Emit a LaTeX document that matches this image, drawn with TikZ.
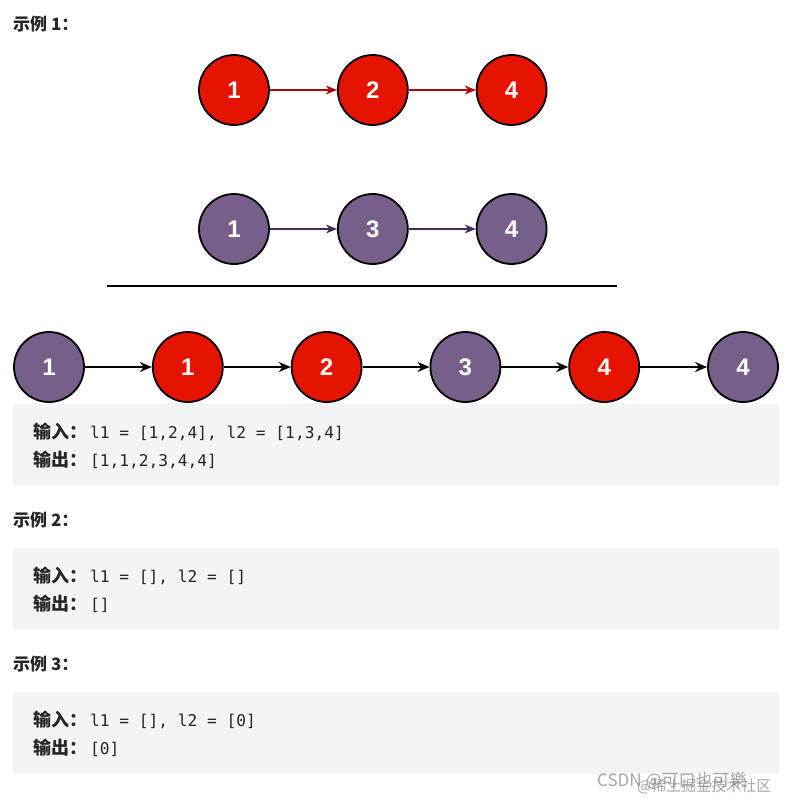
\documentclass[tikz,border=0pt]{standalone}
\usepackage{fontspec}
\newfontfamily\cjk{Noto Sans CJK SC}
\newfontfamily\codefont{DejaVu Sans Mono}
\newfontfamily\numfont{Liberation Sans}
\usetikzlibrary{arrows.meta,positioning}
\definecolor{nodered}{HTML}{E51400}
\definecolor{arrowred}{HTML}{B20000}
\definecolor{nodepurple}{HTML}{76608A}
\definecolor{arrowpurple}{HTML}{432D57}
\definecolor{boxgray}{HTML}{F3F4F5}
\definecolor{textdark}{HTML}{262626}
\newcommand{\cjklabel}[1]{{\cjk\bfseries\fontsize{18}{18}\selectfont #1}\hspace{3pt}}

\begin{document}
\begin{tikzpicture}[x=1pt, y=-1pt, node distance=67pt,
  rednode/.style={circle, draw=black, line width=1.8pt, fill=nodered, minimum size=70pt, inner sep=0pt, text=white, font=\numfont\bfseries\fontsize{24}{24}\selectfont},
  purplenode/.style={rednode, fill=nodepurple},
  redarrow/.style={-{Stealth[length=11pt, width=9pt]}, line width=1.5pt, draw=arrowred},
  purplearrow/.style={-{Stealth[length=11pt, width=9pt]}, line width=1.5pt, draw=arrowpurple},
  mergearrow/.style={-{Stealth[length=12pt, width=10pt]}, line width=1.8pt, draw=black},
  sepline/.style={line width=1.8pt, draw=black},
  codebox/.style={draw=none, fill=boxgray, rounded corners=3pt, minimum width=766pt, minimum height=83pt, anchor=north west},
  title/.style={anchor=base west, inner sep=0pt, text=textdark, font=\cjk\bfseries\fontsize{17}{17}\selectfont},
  codeline/.style={anchor=base west, inner sep=0pt, text=textdark, font=\codefont\fontsize{16.2}{16.2}\selectfont},
  wmark/.style={anchor=base west, inner sep=0pt, text=gray, opacity=0.7, font=\cjk\fontsize{17}{17}\selectfont}]
\useasboundingbox (0,0) rectangle (790,800);
% example 1: the two input lists
\node[title] (ex1) at (13,31) {示例 1：};
\node[rednode] (a1) at (234,90) {1};
\node[rednode, right=of a1] (a2) {2};
\node[rednode, right=of a2] (a3) {4};
\draw[redarrow] (a1)--(a2); \draw[redarrow] (a2)--(a3);
\node[purplenode] (b1) at (234,229) {1};
\node[purplenode, right=of b1] (b2) {3};
\node[purplenode, right=of b2] (b3) {4};
\draw[purplearrow] (b1)--(b2); \draw[purplearrow] (b2)--(b3);
\coordinate (lineL) at (107,286); \coordinate (lineR) at (617,286);
\draw[sepline] (lineL)--(lineR);
% merged list
\node[purplenode] (m1) at (49,367) {1};
\node[rednode, right=of m1] (m2) {1};
\node[rednode, right=of m2] (m3) {2};
\node[purplenode, right=of m3] (m4) {3};
\node[rednode, right=of m4] (m5) {4};
\node[purplenode, right=of m5] (m6) {4};
\draw[mergearrow] (m1)--(m2); \draw[mergearrow] (m2)--(m3); \draw[mergearrow] (m3)--(m4);
\draw[mergearrow] (m4)--(m5); \draw[mergearrow] (m5)--(m6);
\node[codebox] (box1) at (13,403) {};
\node[codeline] (in1) at (33,438) {\cjklabel{输入：}l1 = [1,2,4], l2 = [1,3,4]};
\node[codeline] (out1) at (33,466) {\cjklabel{输出：}[1,1,2,3,4,4]};
% example 2
\node[title] (ex2) at (13,526) {示例 2：};
\node[codebox] (box2) at (13,547) {};
\node[codeline] (in2) at (33,582) {\cjklabel{输入：}l1 = [], l2 = []};
\node[codeline] (out2) at (33,610) {\cjklabel{输出：}[]};
% example 3
\node[title] (ex3) at (13,670) {示例 3：};
\node[codebox] (box3) at (13,691) {};
\node[codeline] (in3) at (33,726) {\cjklabel{输入：}l1 = [], l2 = [0]};
\node[codeline] (out3) at (33,754) {\cjklabel{输出：}[0]};
% watermark
\node[wmark] (wm1) at (597,786) {CSDN @可口也可樂};
\node[wmark, font=\cjk\fontsize{15}{15}\selectfont] (wm2) at (637,791) {@稀土掘金技术社区};
\end{tikzpicture}
\end{document}
